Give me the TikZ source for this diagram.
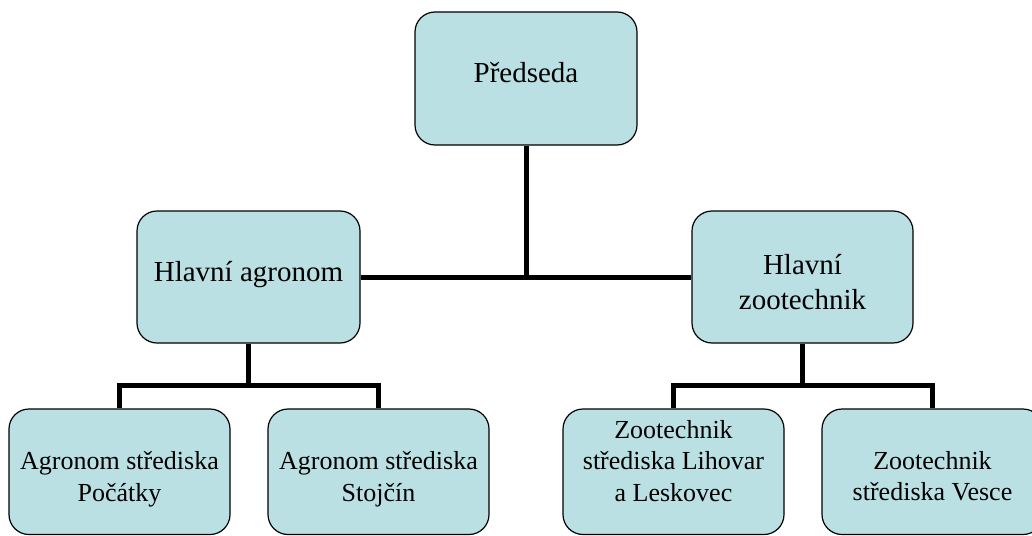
\documentclass[tikz,border=0pt]{standalone}
\usepackage{fontspec}
\setmainfont{Liberation Serif}
\definecolor{boxfill}{RGB}{187,224,227}
\begin{document}
\begin{tikzpicture}[x=1pt,y=-1pt,
  box/.style={draw=black, line width=1.2pt, fill=boxfill, rounded corners=20pt,
    minimum width=221pt, minimum height=132pt, inner sep=0pt},
  lowbox/.style={box, minimum height=125.5pt},
  toptxt/.style={font=\fontsize{29}{35}\selectfont, align=center, text=black, inner sep=0pt},
  lowtxt/.style={font=\fontsize{26}{31.5}\selectfont, align=center, text=black, inner sep=0pt},
  conn/.style={line width=5pt, draw=black}]
\useasboundingbox (0,0) rectangle (1032,535);

% boxes
\node[box, minimum width=222pt, minimum height=133pt,
  label={[toptxt, name=ptext, yshift=6pt]center:Předseda}] (pres) at (526,78.5) {};
\node[box, minimum width=223pt,
  label={[toptxt, name=hatext, yshift=2pt]center:Hlavní agronom}] (ha) at (248.5,277) {};
\node[box,
  label={[toptxt, name=hztext, yshift=-5.5pt]center:{Hlavní\\zootechnik}}] (hz) at (802.5,277) {};

\node[lowbox,
  label={[lowtxt, name=b1text, yshift=-7.5pt]center:{Agronom střediska\\Počátky}}] (b1) at (119.5,471.75) {};
\node[lowbox,
  label={[lowtxt, name=b2text, yshift=-7.5pt]center:{Agronom střediska\\Stojčín}}] (b2) at (378.5,471.75) {};
\node[lowbox,
  label={[lowtxt, name=b3text, yshift=10.8pt]center:{Zootechnik\\střediska Lihovar\\a Leskovec}}] (b3) at (673.5,471.75) {};
\node[lowbox,
  label={[lowtxt, name=b4text, yshift=-4.5pt]center:{Zootechnik\\střediska Vesce}}] (b4) at (932.5,471.75) {};

% junctions
\coordinate (jl) at (248.5,385);
\coordinate (jr) at (802.5,385);

% connectors
\draw[conn] (pres.south) -- (pres.south |- ha.east);
\draw[conn] (ha.east) -- (hz.west);
\draw[conn] (ha.south) -- (jl);
\draw[conn] (b1.north) |- (jl) -| (b2.north);
\draw[conn] (hz.south) -- (jr);
\draw[conn] (b3.north) |- (jr) -| (b4.north);
\end{tikzpicture}
\end{document}
